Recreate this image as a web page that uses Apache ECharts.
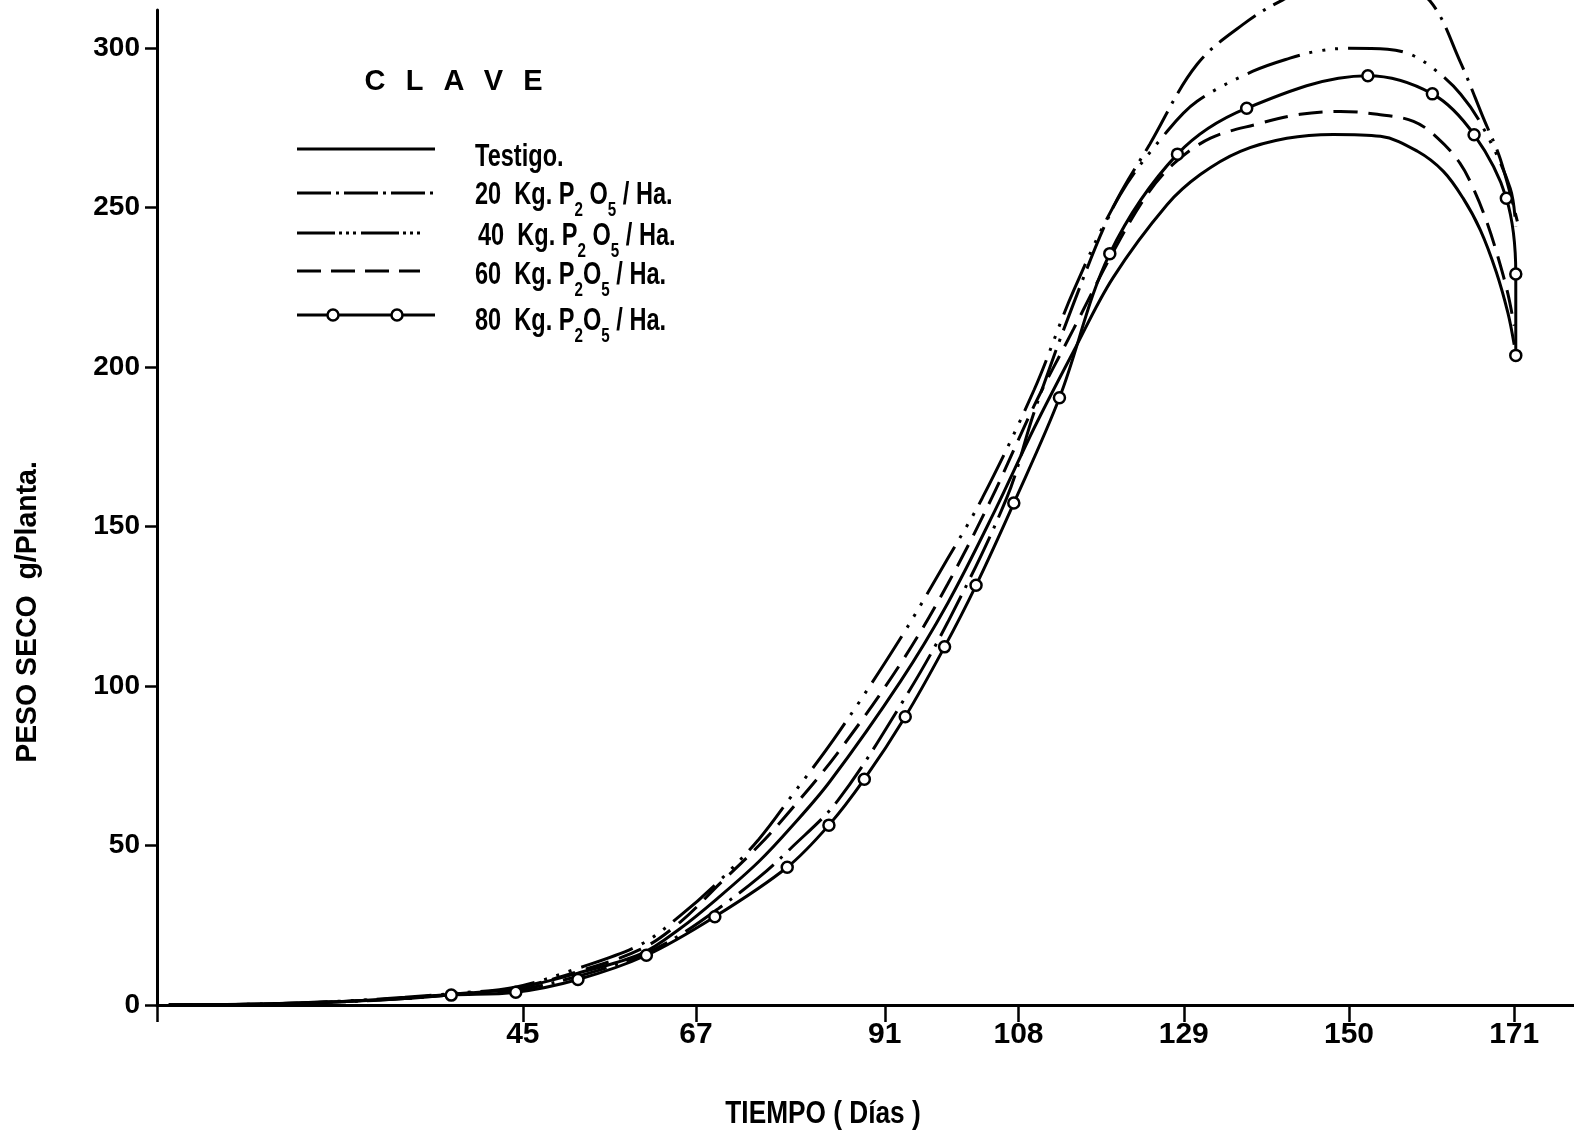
<!DOCTYPE html>
<html>
<head>
<meta charset="utf-8">
<script src="https://cdn.jsdelivr.net/npm/echarts@6/dist/echarts.min.js"></script>
<style>
  html, body { margin: 0; padding: 0; background: #fff; }
  #chart { width: 1574px; height: 1132px; }
</style>
</head>
<body>
<div id="chart"></div>
<script>
// Peso seco por planta a lo largo del ciclo, con cinco dosis de fósforo.
const diasTicks = [45, 67, 91, 108, 129, 150, 171];
const pesoTicks = [0, 50, 100, 150, 200, 250, 300];

const testigoDias = [0, 12, 22, 30, 36, 44, 52, 60, 65, 70, 75, 79, 84, 93, 99, 105, 110, 115, 120, 126.9, 131.1, 136.2, 142.1, 148, 154, 158.7, 162, 164.5, 166.7, 168.7, 170.2, 171];
const testigoPeso = [0, 0.3, 1.1, 2.2, 3.4, 5.2, 10, 16, 24, 34, 45, 55.5, 70, 101.5, 126, 155, 181, 205, 228, 251, 260.4, 267.7, 271.8, 273, 272.4, 267.7, 261.4, 253, 243, 230, 217, 207];

const kg20Dias = [0, 12, 22, 30, 36, 44, 52, 60, 65, 70, 75, 79, 85, 93, 99, 106.5, 110, 115, 120, 124.7, 130.7, 137.1, 141.3, 146, 151, 156, 160.3, 164.1, 167.1, 169.2, 171.4];
const kg20Peso = [0, 0.3, 1, 2, 3.2, 4.6, 9, 15.5, 22, 30.5, 40, 49, 64, 94, 120, 159, 186, 220, 250, 270, 295, 308.5, 314.8, 320, 322, 320, 314.8, 296, 278, 265.5, 245.7];

const kg40Dias = [0, 12, 22, 30, 36, 44, 52, 60, 65, 70, 75, 79, 85, 93, 99, 103.4, 110, 115, 120.9, 126.9, 130.7, 137.8, 142.5, 146, 150, 154.9, 157.8, 160.7, 164.2, 167.1, 170.5, 171.2];
const kg40Peso = [0, 0.3, 1.2, 2.4, 3.6, 5.6, 11.5, 19, 28, 39, 52, 65, 85, 115, 140, 159, 193, 224, 254, 274, 283.4, 292.8, 296.9, 299.1, 300, 299.7, 298.1, 293.7, 285.6, 274.9, 256, 244];

const kg60Dias = [0, 12, 22, 30, 36, 44, 52, 60, 65, 70, 75, 79, 85, 93, 99, 104.6, 110, 115, 120, 124.3, 127.8, 132.4, 138.3, 143.8, 148.9, 153.6, 158.2, 161.2, 164.1, 166, 167.6, 169, 170.2, 171];
const kg60Peso = [0, 0.3, 1.1, 2.2, 3.4, 5.3, 10.5, 17.5, 26, 38, 50, 61, 79, 107, 132, 159, 188, 212, 236, 254, 264, 271.8, 276.2, 279.3, 280.2, 279.3, 277.1, 272, 264, 255, 245, 234, 223, 213];

const kg80Dias = [0, 12, 22, 30, 35.9, 44.1, 52, 60.7, 69.4, 78.6, 83.9, 88.4, 93.6, 98.6, 102.6, 107.4, 113.2, 119.6, 128.2, 137.0, 152.4, 160.6, 165.9, 170.0, 171.2, 171.2];
const kg80Peso = [0, 0.3, 1, 2, 3.1, 4, 8, 15.6, 27.7, 43.2, 56.4, 70.8, 90.4, 112.3, 131.6, 157.4, 190.4, 235.6, 266.8, 281.2, 291.4, 285.7, 272.9, 253.0, 229.2, 203.7];

const claveLetras = ['C', 'L', 'A', 'V', 'E'];
const leyendaTextos = [
  '{m|Testigo.}',
  '{m|20  Kg. P}{s|2}{m| O}{s|5}{m| / Ha.}',
  '{m|40  Kg. P}{s|2}{m| O}{s|5}{m| / Ha.}',
  '{m|60  Kg. P}{s|2}{m|O}{s|5}{m| / Ha.}',
  '{m|80  Kg. P}{s|2}{m|O}{s|5}{m| / Ha.}'
];

const FONT = "'Liberation Sans', Arial, sans-serif";
const INK = '#000';

const dash20 = [45, 9, 3, 9];
const dash40 = [55, 10, 3, 10, 3, 10, 3, 10];
const dash60 = [24, 11];

function pares(dias, pesos) {
  return dias.map((d, i) => [d, pesos[i]]);
}

function curva(name, dias, pesos, dash, extra) {
  return Object.assign({
    name: name,
    type: 'line',
    data: pares(dias, pesos),
    smooth: 0.35,
    symbol: 'none',
    showSymbol: false,
    lineStyle: { color: INK, width: 3, type: dash },
    itemStyle: { color: INK },
    silent: true,
    animation: false
  }, extra || {});
}

const chart = echarts.init(document.getElementById('chart'), null, { renderer: 'canvas' });

const richLeyenda = {
  m: { fontFamily: FONT, fontWeight: 'bold', fontSize: 31, fill: INK, verticalAlign: 'middle' },
  s: { fontFamily: FONT, fontWeight: 'bold', fontSize: 20, fill: INK, verticalAlign: 'middle', padding: [30, 0, 0, 0] }
};

// Clave: muestras de línea y rótulos
const muestraY = [149, 193, 233, 271, 315];
const textoY = [157, 195, 236, 275, 321];
const graficos = [];
claveLetras.forEach((letra, i) => {
  graficos.push({
    type: 'text', x: 375 + i * 39.5, y: 82,
    style: { text: letra, font: 'bold 29px ' + FONT, fill: INK, textAlign: 'center', textVerticalAlign: 'middle' }
  });
});
const muestraDash = [null, [34, 5, 3, 5], [38, 4, 3, 4, 3, 4, 3, 5], [24, 10], null];
muestraY.forEach((y, i) => {
  graficos.push({
    type: 'line',
    shape: { x1: 297, y1: y, x2: i === 2 ? 425 : (i === 3 ? 420 : 435), y2: y },
    style: { stroke: INK, lineWidth: 3.2, lineDash: muestraDash[i] || null }
  });
  graficos.push({
    type: 'text', x: i === 2 ? 478 : 475, y: textoY[i], scaleX: 0.76,
    style: { text: leyendaTextos[i], rich: richLeyenda, fill: INK, textAlign: 'left', textVerticalAlign: 'middle' }
  });
});
[333, 397].forEach(cx => {
  graficos.push({
    type: 'circle', shape: { cx: cx, cy: 315, r: 5.5 },
    style: { fill: '#fff', stroke: INK, lineWidth: 2.5 }, z: 10
  });
});
// Títulos de los ejes
graficos.push({
  type: 'text', x: 28, y: 612, rotation: Math.PI / 2, scaleX: 0.98,
  style: { text: 'PESO SECO  g/Planta.', font: 'bold 29px ' + FONT, fill: INK, textAlign: 'center', textVerticalAlign: 'middle' }
});
graficos.push({
  type: 'text', x: 823, y: 1114, scaleX: 0.82,
  style: { text: 'TIEMPO ( Días )', font: 'bold 32px ' + FONT, fill: INK, textAlign: 'center', textVerticalAlign: 'middle' }
});

chart.setOption({
  backgroundColor: '#fff',
  animation: false,
  grid: { left: 157, right: 0, top: 10, bottom: 127, containLabel: false },
  xAxis: {
    type: 'value',
    min: -1.5,
    max: 178.6,
    axisLine: { show: true, onZero: false, lineStyle: { color: INK, width: 3 } },
    axisTick: { show: true, length: 17, lineStyle: { color: INK, width: 2.5 }, customValues: [-1.5].concat(diasTicks) },
    axisLabel: { customValues: diasTicks, color: INK, fontFamily: FONT, fontWeight: 'bold', fontSize: 30, margin: 15 },
    splitLine: { show: false }
  },
  yAxis: {
    type: 'value',
    min: 0,
    max: 312,
    axisLine: { show: true, onZero: false, lineStyle: { color: INK, width: 3 } },
    axisTick: { show: true, length: 12, lineStyle: { color: INK, width: 2.5 }, customValues: pesoTicks },
    axisLabel: { customValues: pesoTicks, color: INK, fontFamily: FONT, fontWeight: 'bold', fontSize: 28, margin: 17 },
    splitLine: { show: false }
  },
  series: [
    curva('Testigo.', testigoDias, testigoPeso, 'solid'),
    curva('20 Kg. P2O5 / Ha.', kg20Dias, kg20Peso, dash20, { clip: false }),
    curva('40 Kg. P2O5 / Ha.', kg40Dias, kg40Peso, dash40),
    curva('60 Kg. P2O5 / Ha.', kg60Dias, kg60Peso, dash60),
    curva('80 Kg. P2O5 / Ha.', kg80Dias, kg80Peso, 'solid', {
      symbol: function (v) { return v[0] >= 35 ? 'circle' : 'none'; },
      showSymbol: true,
      symbolSize: 11,
      itemStyle: { color: '#fff', borderColor: INK, borderWidth: 2.5 },
      z: 5
    })
  ],
  graphic: graficos
});
</script>
</body>
</html>
